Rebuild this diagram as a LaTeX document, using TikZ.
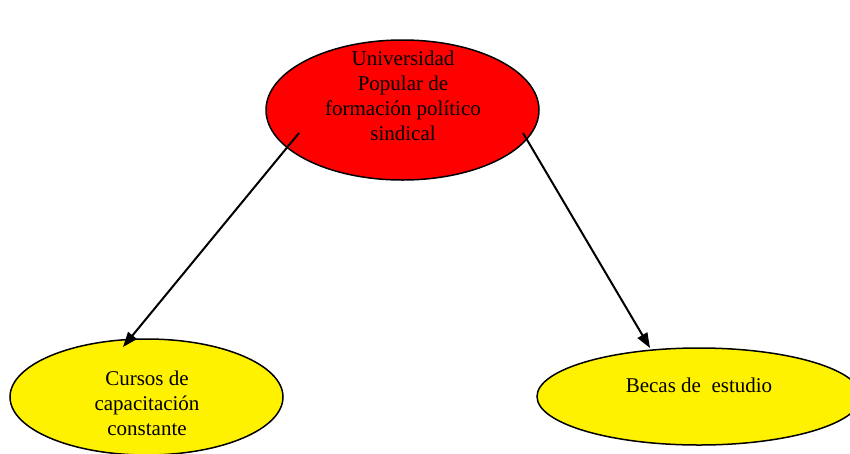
\documentclass[tikz,border=0pt]{standalone}
\usepackage{fontspec}
\setmainfont{Liberation Serif}
\usetikzlibrary{shapes.geometric,arrows.meta}
\begin{document}
\begin{tikzpicture}[x=1pt,y=-1pt,
  bubble/.style={ellipse,draw=black,line width=1.5pt,inner sep=0pt,outer sep=0pt},
  lbl/.style={align=center,font=\fontsize{21}{25}\selectfont,inner sep=0pt},
  conn/.style={-{Triangle[length=15pt,width=11pt]},line width=2pt}]
\useasboundingbox (0,0) rectangle (850,453);
\clip (0,0) rectangle (850,453);
\fill[white] (0,0) rectangle (850,453);
\node[bubble,fill=red,minimum width=273pt,minimum height=140pt] (top) at (402.5,110) {};
\node[bubble,fill=yellow,minimum width=273pt,minimum height=116pt] (left) at (146.5,397) {};
\node[bubble,fill=yellow,minimum width=324pt,minimum height=97pt] (right) at (699,396.5) {};
\node[lbl] (toptxt) at (403,96) {Universidad\\Popular de\\formación político\\sindical};
\node[lbl] (lefttxt) at (147,403) {Cursos de\\capacitación\\constante};
\node[lbl] (righttxt) at (699,385) {Becas de\ \ estudio};
\coordinate (s1) at (299,133);
\coordinate (t1) at (123,347);
\coordinate (s2) at (523,133);
\coordinate (t2) at (650,348);
\draw[conn] (s1) -- (t1);
\draw[conn] (s2) -- (t2);
\end{tikzpicture}
\end{document}
